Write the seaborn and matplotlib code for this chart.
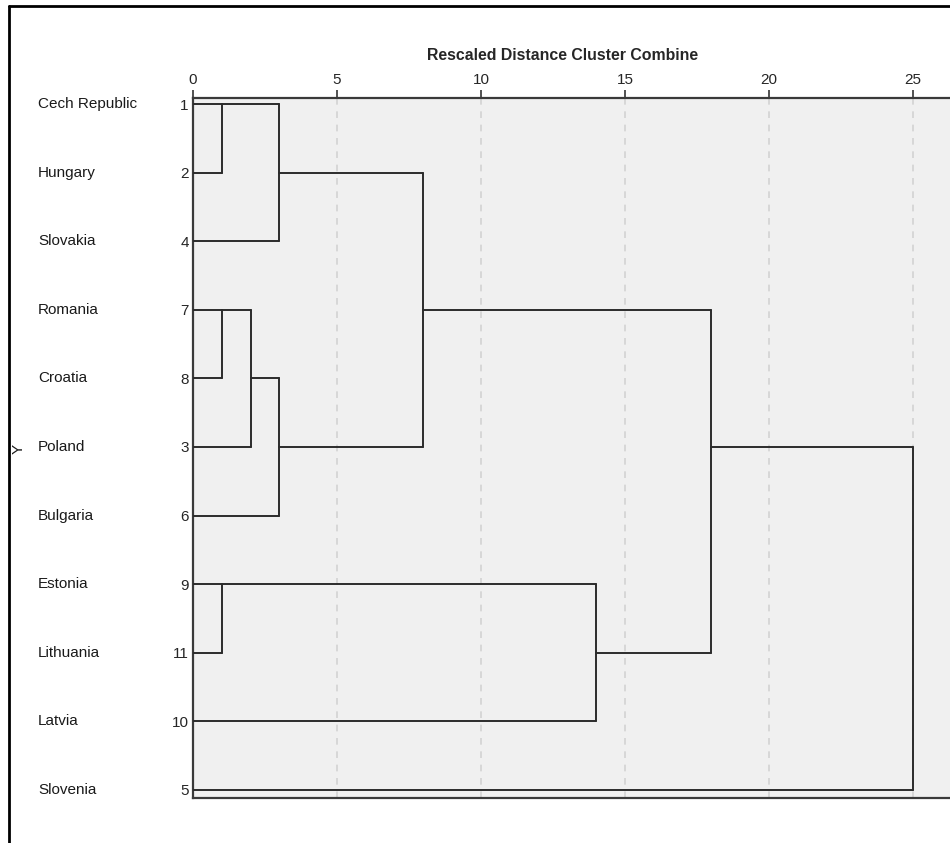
import numpy as np
import pandas as pd
import matplotlib
matplotlib.use("Agg")
import matplotlib.pyplot as plt
import matplotlib.transforms as mtransforms
from matplotlib.lines import Line2D
import seaborn as sns

# -------------------------------------------------------------------
# Data: leaf order of the dendrogram and agglomeration schedule
# -------------------------------------------------------------------

countries = ["Cech Republic", "Hungary", "Slovakia", "Romania", "Croatia",
             "Poland", "Bulgaria", "Estonia", "Lithuania", "Latvia", "Slovenia"]
case_numbers = [1, 2, 4, 7, 8, 3, 6, 9, 11, 10, 5]

# stage: cluster A, cluster B (by case number), rescaled distance
stage_a = [1, 7, 9, 1, 3, 3, 1, 9, 1, 1]
stage_b = [2, 8, 11, 4, 7, 6, 3, 10, 9, 5]
stage_dist = [1, 1, 1, 3, 2, 3, 8, 14, 18, 25]

x_ticks = [0, 5, 10, 15, 20, 25]

LINE = "#2b2b2b"


# -------------------------------------------------------------------
# Build line segments from the schedule
# -------------------------------------------------------------------

def build_segments():
    row = {c: i for i, c in enumerate(case_numbers)}
    xpos = {c: 0.0 for c in case_numbers}
    rows = []
    seg = 0
    order = sorted(range(len(stage_a)), key=lambda k: (stage_dist[k], k))
    for k in order:
        a, b, d = stage_a[k], stage_b[k], stage_dist[k]
        ya, yb = row[a], row[b]
        for c, yc in ((a, ya), (b, yb)):
            rows.append((seg, xpos[c], yc))
            rows.append((seg, d, yc))
            seg += 1
        rows.append((seg, d, ya))
        rows.append((seg, d, yb))
        seg += 1
        top, bot = min(ya, yb), max(ya, yb)
        keep = min(a, b)
        row[keep] = int(np.floor((top + bot) / 2))
        xpos[keep] = d
    return pd.DataFrame(rows, columns=["seg", "x", "y"])


def draw():
    sns.set_style("white")
    plt.rcParams["font.family"] = ["Liberation Sans", "DejaVu Sans"]

    fig = plt.figure(figsize=(9.5, 8.43), dpi=100)
    ax = fig.add_axes([193 / 950, 45 / 843, 758 / 950, 700 / 843])
    ax.set_facecolor("#f0f0f0")

    for t in x_ticks[1:]:
        ax.axvline(t, color="#d2d2d2", lw=1.2, ls=(0, (4, 4)), zorder=1)

    df = build_segments()
    sns.lineplot(data=df, x="x", y="y", units="seg", estimator=None,
                 sort=False, color=LINE, lw=1.4, ax=ax, zorder=3)

    n = len(case_numbers)
    ax.set_xlim(0, 758 / 28.8)
    ax.set_ylim(n - 1 + 0.12, -0.09)

    ax.xaxis.tick_top()
    ax.set_xticks(x_ticks)
    ax.set_xticklabels([str(t) for t in x_ticks], fontsize=11)
    ax.tick_params(axis="x", direction="out", length=6, width=1.2,
                   color="#333333", pad=2)
    ax.set_yticks(range(n))
    ax.set_yticklabels([str(c) for c in case_numbers], fontsize=11)
    ax.tick_params(axis="y", length=0, pad=3)
    ax.set_xlabel("")
    ax.set_ylabel("")

    for side in ["left", "top", "bottom"]:
        ax.spines[side].set_visible(True)
        ax.spines[side].set_color("#3a3a3a")
        ax.spines[side].set_linewidth(1.6)
    ax.spines["right"].set_visible(False)

    fig.text(563 / 950, 1 - 55 / 843, "Rescaled Distance Cluster Combine",
             ha="center", va="center", fontsize=11.4, fontweight="bold")

    trans = mtransforms.blended_transform_factory(fig.transFigure, ax.transData)
    for i, name in enumerate(countries):
        ax.text(38 / 950, i, name, transform=trans, ha="left", va="center",
                fontsize=11, color="#1a1a1a")

    fig.text(19 / 950, 1 - 449 / 843, "Y", rotation=90, ha="center",
             va="center", fontsize=11, color="#1a1a1a")

    # outer frame (top and left edges visible)
    fig.add_artist(Line2D([8.5 / 950, 8.5 / 950], [0, 1 - 6 / 843],
                          transform=fig.transFigure, color="black", lw=2))
    fig.add_artist(Line2D([8.5 / 950, 1], [1 - 6 / 843, 1 - 6 / 843],
                          transform=fig.transFigure, color="black", lw=2))

    fig.savefig("out.png", dpi=100)
    plt.close(fig)


if __name__ == "__main__":
    draw()
